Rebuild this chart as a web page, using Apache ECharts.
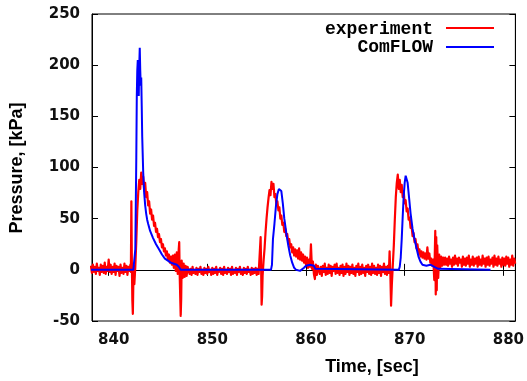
<!DOCTYPE html>
<html>
<head>
<meta charset="utf-8">
<script src="https://cdn.jsdelivr.net/npm/echarts@6/dist/echarts.min.js"></script>
<style>html,body{margin:0;padding:0;background:#fff}#c{width:527px;height:381px}</style>
</head>
<body>
<div id="c"></div>
<script>
// ---- tick labels ----
const xTicks = [840, 850, 860, 870, 880];
const yTicks = [-50, 0, 50, 100, 150, 200, 250];

// ---- experiment (red), segment by segment ----
const expT1 = [838.2,838.3,838.4,838.5,838.6,838.7,838.8,838.9,839.0,839.1,839.2,839.3,839.4,839.5,839.6,839.7,839.8,839.9,840.0,840.1,840.2,840.3,840.4,840.5,840.6,840.7,840.8,840.9,841.0,841.1,841.2,841.3,841.4,841.5,841.6,841.7,841.8,841.9,842.0,842.1,842.2];
const expP1 = [4,-3,5,-2,3,-4,6,-1,2,-5,5,-2,4,-3,7,-4,3,-1,10,-2,5,-4,3,-2,6,-5,4,-1,3,-6,5,-3,2,-4,6,-2,4,-5,3,-1,5];

const expT2 = [842.25,842.3,842.35,842.4,842.45,842.5,842.55,842.6,842.7,842.8,842.9,843.0,843.1,843.2,843.3,843.4,843.5,843.6,843.7,843.8,843.9,844.0,844.1,844.2,844.3,844.4,844.5,844.6,844.7,844.8,844.9,845.0,845.1,845.2,845.3,845.4,845.5,845.6,845.7,845.8,845.9,846.0,846.1,846.2,846.3,846.4,846.5,846.6,846.7,846.8,846.9,847.0,847.1,847.15,847.2,847.3,847.35,847.4,847.5,847.6,847.7,847.8,847.9,848.0];
const expP2 = [-2,67,8,-30,-43,-12,4,-14,3,28,58,76,88,79,95,84,91,77,85,71,76,63,67,55,59,49,53,43,46,37,40,32,35,27,30,22,25,18,21,14,18,10,15,7,13,5,14,2,15,-1,17,-4,20,27,-6,-45,-28,9,-8,6,-7,4,-6,3];

const expT3 = [848.1,848.2,848.3,848.4,848.5,848.6,848.7,848.8,848.9,849.0,849.1,849.2,849.3,849.4,849.5,849.6,849.7,849.8,849.9,850.0,850.1,850.2,850.3,850.4,850.5,850.6,850.7,850.8,850.9,851.0,851.1,851.2,851.3,851.4,851.5,851.6,851.7,851.8,851.9,852.0,852.1,852.2,852.3,852.4,852.5,852.6,852.7,852.8,852.9,853.0,853.1,853.2,853.3,853.4,853.5,853.6,853.7,853.8,853.9,854.0,854.1,854.2,854.3,854.4,854.5,854.6,854.7,854.8,854.9,855.0,855.1,855.2];
const expP3 = [2,-4,1,-5,3,-3,0,-4,2,-5,1,-2,3,-4,0,-5,2,-3,1,-4,3,-2,0,-5,2,-4,1,-3,3,-5,0,-2,2,-4,1,-5,3,-3,0,-4,2,-2,1,-5,3,-4,0,-3,2,-5,1,-2,3,-4,0,-5,2,-3,1,-4,3,-2,0,-5,2,-4,1,-3,2,-5,1,-4];

const expT4 = [855.3,855.4,855.45,855.5,855.55,855.6,855.7,855.8,855.9,856.0,856.1,856.2,856.3,856.4,856.5,856.6,856.7,856.8,856.9,857.0,857.1,857.2,857.3,857.4,857.5,857.6,857.7,857.8,857.9,858.0,858.1,858.2,858.3,858.4,858.5,858.6,858.7,858.8,858.9,859.0,859.1,859.2,859.3,859.4,859.5,859.6,859.7,859.8,859.9,860.0,860.1,860.2,860.3,860.4,860.5,860.6,860.7,860.8,860.9,861.0,861.1,861.2];
const expP4 = [-4,32,4,-34,-26,-6,9,21,37,50,61,70,78,73,86,79,84,71,74,63,67,58,61,50,53,44,46,37,40,33,35,27,30,22,25,17,22,14,20,13,19,11,21,10,17,9,15,7,13,5,12,2,10,3,25,1,8,-4,-9,5,-5,4];

const expT5 = [861.3,861.4,861.5,861.6,861.7,861.8,861.9,862.0,862.1,862.2,862.3,862.4,862.5,862.6,862.7,862.8,862.9,863.0,863.1,863.2,863.3,863.4,863.5,863.6,863.7,863.8,863.9,864.0,864.1,864.2,864.3,864.4,864.5,864.6,864.7,864.8,864.9,865.0,865.1,865.2,865.3,865.4,865.5,865.6,865.7,865.8,865.9,866.0,866.1,866.2,866.3,866.4,866.5,866.6,866.7,866.8,866.9,867.0,867.1,867.2,867.3,867.4,867.5,867.6,867.7,867.8,867.9,868.0,868.1,868.2,868.3];
const expP5 = [5,-4,3,-6,4,-2,6,-5,2,-4,5,-3,4,-6,3,-1,5,-4,6,-3,2,-5,4,-3,5,-6,3,-4,6,-2,4,-5,3,-3,5,-4,2,-6,4,-2,6,-5,3,-4,5,-3,2,-6,4,-2,5,-4,3,-5,6,-3,4,-4,2,-5,5,-3,4,-6,3,-2,6,-4,3,-5,4];

const expT6 = [868.4,868.47,868.55,868.62,868.7,868.8,868.9,869.0,869.1,869.2,869.3,869.4,869.5,869.6,869.7,869.8,869.9,870.0,870.1,870.2,870.3,870.4,870.5,870.6,870.7,870.8,870.9,871.0,871.1,871.2,871.3,871.4,871.5,871.6,871.7,871.8,871.9,872.0,872.1,872.2,872.3,872.4,872.5,872.6,872.7,872.8,872.9,873.0,873.1,873.15,873.2,873.25,873.3,873.4,873.5,873.6,873.7,873.8,873.9,874.0];
const expP6 = [-3,18,-4,-35,-14,5,24,49,71,85,93,79,88,76,83,71,77,65,68,57,60,49,51,41,43,33,36,27,30,21,25,16,20,13,18,12,17,11,16,10,22,11,16,7,11,4,10,-10,38,-24,32,-20,24,-8,15,2,13,4,12,5];

const expT7 = [874.1,874.2,874.3,874.4,874.5,874.6,874.7,874.8,874.9,875.0,875.1,875.2,875.3,875.4,875.5,875.6,875.7,875.8,875.9,876.0,876.1,876.2,876.3,876.4,876.5,876.6,876.7,876.8,876.9,877.0,877.1,877.2,877.3,877.4,877.5,877.6,877.7,877.8,877.9,878.0,878.1,878.2,878.3,878.4,878.5,878.6,878.7,878.8,878.9,879.0,879.1,879.2,879.3,879.4,879.5,879.6,879.7,879.8,879.9,880.0,880.1,880.2,880.3,880.4,880.5,880.6,880.7,880.8,880.9,881.0,881.1,881.2];
const expP7 = [12,5,11,4,13,6,10,3,12,5,14,6,11,4,12,7,10,3,13,5,11,4,12,6,14,3,10,5,13,4,11,6,12,3,13,5,10,4,14,6,11,3,12,5,13,4,10,6,12,3,14,5,11,4,13,6,10,3,12,5,11,4,13,6,12,3,10,5,14,4,11,6];

// ---- ComFLOW (blue) ----
const cfT = [838.2,842.5,842.6,842.7,842.8,842.85,842.9,842.95,843.0,843.05,843.1,843.15,843.2,843.25,843.3,843.35,843.4,843.5,843.6,843.7,843.8,843.9,844.0,844.2,844.5,844.8,845.1,845.4,845.7,846.0,846.3,846.6,846.9,847.1,847.3,
  856.45,856.55,856.65,856.8,856.95,857.1,857.25,857.4,857.5,857.65,857.8,858.0,858.2,858.4,858.6,858.8,859.0,859.2,859.4,859.6,859.8,860.0,860.2,860.4,860.6,860.8,860.95,861.1,
  869.4,869.5,869.6,869.7,869.8,869.9,870.0,870.1,870.2,870.3,870.45,870.6,870.8,871.0,871.2,871.4,871.6,871.8,872.0,872.2,872.4,872.6,872.8,873.0,873.2,873.4,873.5,878.7];
const cfP = [0,0,1,20,110,170,195,205,190,170,200,217,195,180,188,160,130,95,75,63,55,49,45,38,31,25,20,15,11,9,7,6,5,3,0,
  0,5,30,45,62,74,79,80,77,65,50,36,24,14,7,2,0,-1,-1,0,2,4,5,5,4,4,1,0,
  0,3,12,30,52,72,85,92,92,85,70,55,40,30,21,13,8,5,4,4,5,5,4,3,2,1,0,0];

function zip(ts, ps) { return ts.map((t, i) => [t, ps[i]]); }
const expData = [].concat(
  zip(expT1, expP1), zip(expT2, expP2), zip(expT3, expP3), zip(expT4, expP4),
  zip(expT5, expP5), zip(expT6, expP6), zip(expT7, expP7));
const cfData = zip(cfT, cfP);

const X_MIN = 838.31, X_MAX = 881.22;
const tickFont = { fontFamily: 'DejaVu Sans', fontSize: 15, fontWeight: 'bold', color: '#111' };

const chart = echarts.init(document.getElementById('c'), null, { renderer: 'canvas' });
chart.setOption({
  animation: false,
  backgroundColor: '#fff',
  grid: { left: 92, right: 11, top: 14, bottom: 60, show: true, borderColor: '#000', borderWidth: 1, containLabel: false },
  xAxis: [
    { type: 'value', position: 'bottom', min: X_MIN, max: X_MAX,
      axisLine: { show: true, lineStyle: { color: '#000', width: 1 } },
      axisTick: { show: true, inside: true, length: 6, customValues: xTicks, lineStyle: { color: '#000' } },
      axisLabel: Object.assign({ show: true, margin: 12, customValues: xTicks, padding: [0, 0, 0, 10],
        formatter: v => String(Math.round(v)) }, tickFont),
      splitLine: { show: false } },
    { type: 'value', position: 'top', min: X_MIN, max: X_MAX,
      axisLine: { show: true, lineStyle: { color: '#000', width: 1 } },
      axisTick: { show: true, inside: true, length: 6, customValues: xTicks, lineStyle: { color: '#000' } },
      axisLabel: { show: false }, splitLine: { show: false } }
  ],
  yAxis: [
    { type: 'value', position: 'left', min: -50, max: 250, interval: 50,
      axisLine: { show: true, lineStyle: { color: '#000', width: 1 } },
      axisTick: { show: true, inside: true, length: 6, lineStyle: { color: '#000' } },
      axisLabel: Object.assign({ show: true, margin: 12, padding: [4, 0, 0, 0] }, tickFont),
      splitLine: { show: false } },
    { type: 'value', position: 'right', min: -50, max: 250, interval: 50,
      axisLine: { show: true, lineStyle: { color: '#000', width: 1 } },
      axisTick: { show: true, inside: true, length: 6, lineStyle: { color: '#000' } },
      axisLabel: { show: false }, splitLine: { show: false } }
  ],
  series: [
    { name: 'experiment', type: 'line', xAxisIndex: 0, yAxisIndex: 0, data: expData,
      showSymbol: false, symbol: 'none', smooth: false, clip: true,
      lineStyle: { color: '#ff0000', width: 2.2, join: 'round' }, z: 2 },
    { name: 'ComFLOW', type: 'line', xAxisIndex: 0, yAxisIndex: 0, data: cfData,
      showSymbol: false, symbol: 'none', smooth: false, clip: true,
      lineStyle: { color: '#0000ff', width: 2 }, z: 3 }
  ],
  graphic: [
    { type: 'text', z: 10, x: 372, y: 367,
      style: { text: 'Time, [sec]', font: 'bold 18px "Liberation Sans", Arial, sans-serif', fill: '#000', align: 'center', verticalAlign: 'middle' } },
    { type: 'text', z: 10, x: 17, y: 168, rotation: Math.PI / 2,
      style: { text: 'Pressure, [kPa]', font: 'bold 18px "Liberation Sans", Arial, sans-serif', fill: '#000', align: 'center', verticalAlign: 'middle' } },
    { type: 'text', z: 10, x: 433, y: 29,
      style: { text: 'experiment', font: 'bold 18px "Liberation Mono", "Courier New", monospace', fill: '#000', align: 'right', verticalAlign: 'middle' } },
    { type: 'line', z: 10, shape: { x1: 446, y1: 28, x2: 494, y2: 28 }, style: { stroke: '#ff0000', lineWidth: 2 } },
    { type: 'text', z: 10, x: 433, y: 47,
      style: { text: 'ComFLOW', font: 'bold 18px "Liberation Mono", "Courier New", monospace', fill: '#000', align: 'right', verticalAlign: 'middle' } },
    { type: 'line', z: 10, shape: { x1: 446, y1: 47, x2: 494, y2: 47 }, style: { stroke: '#0000ff', lineWidth: 2 } }
  ]
});
</script>
</body>
</html>
